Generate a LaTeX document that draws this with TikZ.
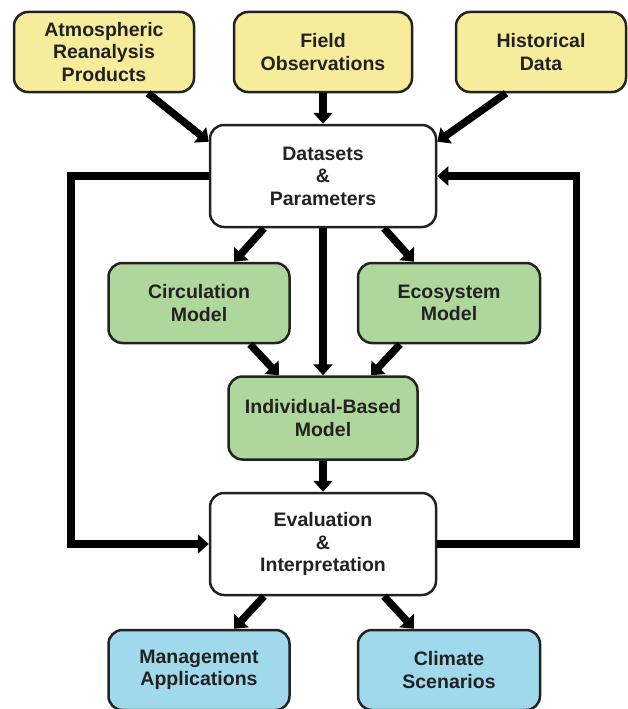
\documentclass[tikz,border=0pt]{standalone}
\usepackage{fontspec}
\setmainfont{Liberation Sans}
\usetikzlibrary{arrows.meta}
\definecolor{boxyellow}{HTML}{F7EC9C}
\definecolor{boxgreen}{HTML}{AFD69B}
\definecolor{boxblue}{HTML}{9FD9EB}
\definecolor{edgegray}{HTML}{222222}

\begin{document}
\begin{tikzpicture}[x=1pt,y=-1pt,
    box/.style={draw=edgegray,line width=2.5pt,rounded corners=14pt,align=center,
      inner sep=2pt,text=edgegray,font=\fontsize{19.5}{22.5}\selectfont\bfseries},
    flow/.style={line width=7.5pt,-{Triangle[length=11pt,width=19pt]}}]
      \useasboundingbox (0,0) rectangle (628,709);

      % inputs
      \node[box,fill=boxyellow,minimum width=180pt,minimum height=80pt] (atm) at (104,52) {Atmospheric\\Reanalysis\\Products};
      \node[box,fill=boxyellow,minimum width=178pt,minimum height=80pt] (field) at (323,52) {Field\\Observations};
      \node[box,fill=boxyellow,minimum width=170pt,minimum height=80pt] (hist) at (541,52) {Historical\\Data};

      \node[box,fill=white,minimum width=226pt,minimum height=102pt] (data) at (323,176) {Datasets\\\&\\Parameters};

      % models
      \node[box,fill=boxgreen,minimum width=181pt,minimum height=80pt] (circ) at (199,303) {Circulation\\Model};
      \node[box,fill=boxgreen,minimum width=182pt,minimum height=80pt] (eco) at (449,303) {Ecosystem\\Model};
      \node[box,fill=boxgreen,minimum width=189pt,minimum height=83pt] (ibm) at (323,418) {Individual-Based\\Model};

      \node[box,fill=white,minimum width=226pt,minimum height=102pt] (eval) at (323,544) {Evaluation\\\&\\Interpretation};

      % outputs
      \node[box,fill=boxblue,minimum width=181pt,minimum height=80pt] (mgmt) at (199,670) {Management\\Applications};
      \node[box,fill=boxblue,minimum width=182pt,minimum height=80pt] (clim) at (449,670) {Climate\\Scenarios};

      \draw[flow] ([xshift=44pt]atm.south) -- ([yshift=-18pt]data.north west);
      \draw[flow] (field.south) -- (data.north);
      \draw[flow] ([xshift=-35pt]hist.south) -- ([yshift=-18pt]data.north east);

      \draw[flow] ([xshift=-59pt]data.south) -- ([xshift=35pt]circ.north);
      \draw[flow] (data.south) -- (ibm.north);
      \draw[flow] ([xshift=61pt]data.south) -- ([xshift=-35pt]eco.north);

      \draw[flow] ([xshift=51pt]circ.south) -- ([xshift=-44pt]ibm.north);
      \draw[flow] ([xshift=-49pt]eco.south) -- ([xshift=48pt]ibm.north);
      \draw[flow] (ibm.south) -- (eval.north);

      \draw[flow] ([xshift=-59pt]eval.south) -- ([xshift=35pt]mgmt.north);
      \draw[flow] ([xshift=61pt]eval.south) -- ([xshift=-35pt]clim.north);

      % feedback loops
      \draw[flow] (data.west) -- ++(-138,0) |- (eval.west);
      \draw[flow] (eval.east) -- ++(139,0) |- (data.east);
    \end{tikzpicture}
\end{document}
